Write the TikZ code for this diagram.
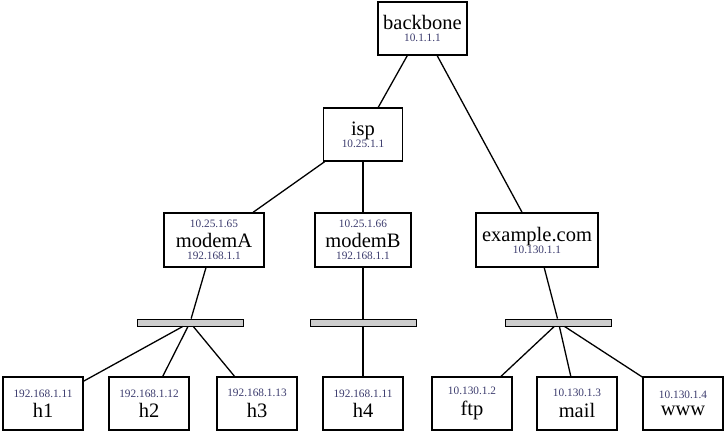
\documentclass[tikz,border=0pt]{standalone}
\usepackage{fontspec}
\setmainfont{Liberation Serif}
\definecolor{ipcol}{RGB}{60,60,110}
\definecolor{busfill}{RGB}{205,205,205}
\newcommand{\nmf}{\fontsize{20.5}{20}\selectfont}
\newcommand{\ipf}{\fontsize{11.3}{12}\selectfont\color{ipcol}}
\begin{document}
\begin{tikzpicture}[x=1pt,y=-1pt,
  box/.style={draw, line width=1.3pt, fill=white, inner sep=0pt, align=center,
              font=\fontsize{11.3}{12}\selectfont, minimum height=53pt},
  host/.style={box, minimum width=80pt},
  bus/.style={draw, line width=0.8pt, fill=busfill, inner sep=0pt, minimum width=106pt, minimum height=7pt},
  edge/.style={line width=1.3pt}]
\useasboundingbox (0,0) rectangle (725,434);
% routers
\node[box, minimum width=89pt] (bb) at (422.5,28.5) {{\nmf backbone}\\{\ipf 10.1.1.1}};
\node[box, minimum width=79pt] (isp) at (363,134.5) {{\nmf isp}\\{\ipf 10.25.1.1}};
\node[box, minimum width=100pt, minimum height=54pt] (mA) at (214,240) {{\ipf 10.25.1.65}\\[5pt]{\nmf modemA}\\{\ipf 192.168.1.1}};
\node[box, minimum width=96pt, minimum height=54pt] (mB) at (363,240) {{\ipf 10.25.1.66}\\[5pt]{\nmf modemB}\\{\ipf 192.168.1.1}};
\node[box, minimum width=122pt, minimum height=54pt] (ex) at (537,240) {{\nmf example.com}\\{\ipf 10.130.1.1}};
% buses
\node[bus] (busA) at (190,322.5) {};
\node[bus] (busB) at (363,322.5) {};
\node[bus] (busC) at (558.5,322.5) {};
% hosts
\node[host] (h1) at (43,403.5) {{\ipf 192.168.1.11}\\[5pt]{\nmf h1}};
\node[host] (h2) at (149,403.5) {{\ipf 192.168.1.12}\\[5pt]{\nmf h2}};
\node[host] (h3) at (257,403.5) {{\ipf 192.168.1.13}\\[5pt]{\nmf h3}};
\node[host] (h4) at (363,403.5) {{\ipf 192.168.1.11}\\[5pt]{\nmf h4}};
\node[host] (ftp) at (472,403.5) {{\ipf 10.130.1.2}\\[5pt]{\nmf ftp}};
\node[host] (mail) at (577,403.5) {{\ipf 10.130.1.3}\\[5pt]{\nmf mail}};
\node[host] (www) at (683,403.5) {{\ipf 10.130.1.4}\\[5pt]{\nmf www}};
% edges
\draw[edge] (bb) -- (isp);
\draw[edge] (bb) -- (ex);
\draw[edge] (isp) -- (mA);
\draw[edge] (isp) -- (mB);
\draw[edge] (mA) -- (busA);
\draw[edge] (busA) -- (h1);
\draw[edge] (busA) -- (h2);
\draw[edge] (busA) -- (h3);
\draw[edge] (mB) -- (busB);
\draw[edge] (busB) -- (h4);
\draw[edge] (ex) -- (busC);
\draw[edge] (busC) -- (ftp);
\draw[edge] (busC) -- (mail);
\draw[edge] (busC) -- (www);
\end{tikzpicture}
\end{document}
